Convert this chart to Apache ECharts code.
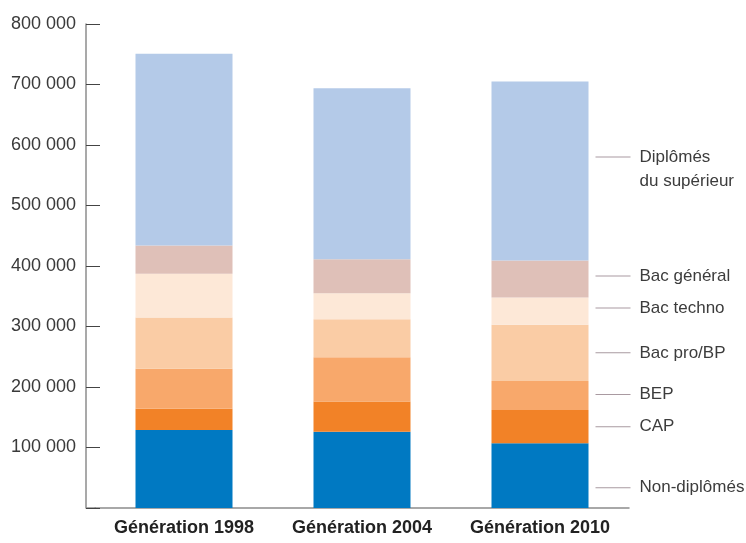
<!DOCTYPE html>
<html>
<head>
<meta charset="utf-8">
<script src="https://cdn.jsdelivr.net/npm/echarts@6/dist/echarts.min.js"></script>
<style>html,body{margin:0;padding:0;background:#fff}#c{width:746px;height:543px}</style>
</head>
<body>
<div id="c"></div>
<script>
var categories = ['Génération 1998', 'Génération 2004', 'Génération 2010'];
var nonDiplomes = [129000, 126000, 107000];
var cap = [35000, 50000, 55000];
var bep = [66000, 73000, 48000];
var bacPro = [85000, 63000, 93000];
var bacTechno = [72000, 43000, 45000];
var bacGeneral = [47000, 56000, 61000];
var superieur = [317000, 283000, 296000];
var seriesNames = ['Non-diplômés', 'CAP', 'BEP', 'Bac pro/BP', 'Bac techno', 'Bac général', 'Diplômés\ndu supérieur'];
var yTicks = [100000, 200000, 300000, 400000, 500000, 600000, 700000, 800000];

var colors = ['#0079C2', '#F28227', '#F8A86B', '#FACCA5', '#FDE8D7', '#DFC0B8', '#B4CAE8'];
var labelOffsets = [[0, 12], [0, 0], [0, -1], [0, 0], [0, -3], [0, -3], [0, -2]];

function fmt(v) {
  return String(v).replace(/\B(?=(\d{3})+(?!\d))/g, ' ');
}

var allData = [nonDiplomes, cap, bep, bacPro, bacTechno, bacGeneral, superieur];

var rich = {
  l: { width: 35, height: 1, backgroundColor: '#a99aa1' },
  g: { width: 9 },
  s: { width: 44 },
  t: { fontFamily: 'Liberation Sans', fontSize: 17, color: '#3c3c3c', lineHeight: 24 }
};

function makeLabelText(name) {
  var parts = name.split('\n');
  var out = '{l|}{g|}{t|' + parts[0] + '}';
  for (var i = 1; i < parts.length; i++) {
    out += '\n{s|}{t|' + parts[i] + '}';
  }
  return out;
}

var series = allData.map(function (arr, si) {
  return {
    name: seriesNames[si],
    type: 'bar',
    stack: 'total',
    barWidth: 97,
    itemStyle: { color: colors[si] },
    emphasis: { disabled: true },
    data: arr.map(function (v, i) {
      if (i === arr.length - 1) {
        return {
          value: v,
          label: {
            show: true,
            position: 'right',
            distance: 7,
            offset: labelOffsets[si],
            formatter: makeLabelText(seriesNames[si]),
            rich: rich
          }
        };
      }
      return v;
    })
  };
});

var chart = echarts.init(document.getElementById('c'));
chart.setOption({
  animation: false,
  grid: { left: 95, right: 117, top: 24, bottom: 35, containLabel: false },
  graphic: [{
    type: 'line',
    shape: { x1: 86, y1: 508, x2: 96, y2: 508 },
    style: { stroke: '#8c8c8c', lineWidth: 1.5 }
  }],
  xAxis: {
    type: 'category',
    data: categories,
    axisLine: { lineStyle: { color: '#8c8c8c', width: 1.5 } },
    axisTick: { alignWithLabel: true, length: 3, lineStyle: { color: '#333' } },
    axisLabel: { interval: 0, hideOverlap: false, fontFamily: 'Liberation Sans', fontWeight: 'bold', fontSize: 18, color: '#222', margin: 11 }
  },
  yAxis: {
    type: 'value',
    min: 0,
    max: 800000,
    interval: 100000,
    offset: 9,
    axisLine: { show: true, lineStyle: { color: '#8c8c8c', width: 1.5 } },
    axisTick: { show: true, inside: true, length: 14, lineStyle: { color: '#444' } },
    splitLine: { show: false },
    axisLabel: {
      fontFamily: 'Liberation Sans', fontSize: 18, color: '#3a3a3a', margin: 10,
      formatter: function (v) { return yTicks.indexOf(v) >= 0 ? fmt(v) : ''; }
    }
  },
  series: series
});
</script>
</body>
</html>
